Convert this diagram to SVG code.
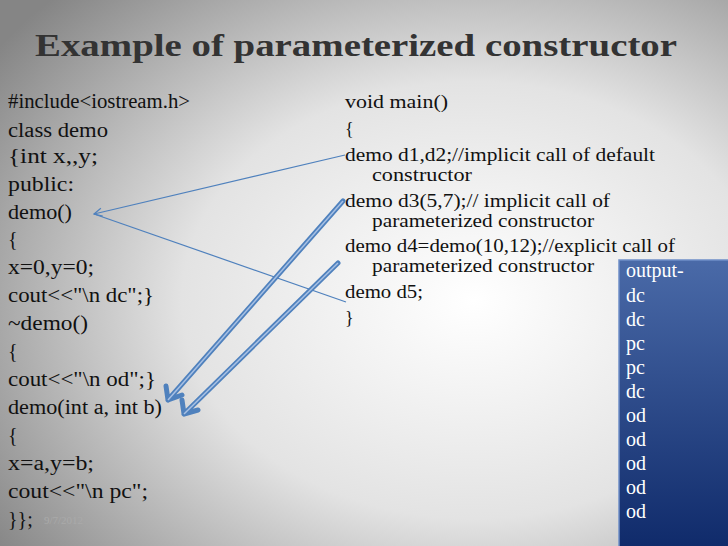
<svg xmlns="http://www.w3.org/2000/svg" width="728" height="546" viewBox="0 0 728 546">
<defs>
<radialGradient id="bg" cx="0.65" cy="0.55" r="0.8">
<stop offset="0" stop-color="#ffffff"/><stop offset="0.5" stop-color="#e3e3e3"/><stop offset="1" stop-color="#858585"/>
</radialGradient>
<linearGradient id="ob" x1="0" y1="0" x2="0" y2="1">
<stop offset="0" stop-color="#4a6aa8"/><stop offset="1" stop-color="#0f2a6a"/>
</linearGradient>
<marker id="thin" markerWidth="10" markerHeight="10" refX="9" refY="5" orient="auto" markerUnits="userSpaceOnUse">
<path d="M1,1 L9,5 L1,9" fill="none" stroke="#4f81bd" stroke-width="1.2"/>
</marker>
</defs>
<style>
.c{font-family:"Liberation Serif",serif;font-size:20px;fill:#111}
.r{font-family:"Liberation Serif",serif;font-size:18px;fill:#111}
.o{font-family:"Liberation Serif",serif;font-size:20px;fill:#fff}
.thin{stroke:#4f81bd;stroke-width:1.2;fill:none}
.thick{stroke:#4f81bd;stroke-width:5;fill:none;stroke-linecap:round;stroke-linejoin:round}
.thickin{stroke:#a7c0e4;stroke-width:1.5;fill:none}
</style>
<rect width="728" height="546" fill="url(#bg)"/>
<text x="35" y="56" font-family="Liberation Serif,serif" font-size="31" font-weight="bold" fill="#333" textLength="642" lengthAdjust="spacingAndGlyphs">Example of parameterized constructor</text>
<g id="left-code">
<text class="c" x="8" y="108" textLength="182" lengthAdjust="spacingAndGlyphs">#include&lt;iostream.h&gt;</text>
<text class="c" x="8" y="137" textLength="100" lengthAdjust="spacingAndGlyphs">class demo</text>
<text class="c" x="8" y="163" textLength="90" lengthAdjust="spacingAndGlyphs">{int x,,y;</text>
<text class="c" x="8" y="191" textLength="66" lengthAdjust="spacingAndGlyphs">public:</text>
<text class="c" x="8" y="219" textLength="64" lengthAdjust="spacingAndGlyphs">demo()</text>
<text class="c" x="8" y="246">{</text>
<text class="c" x="8" y="274" textLength="86" lengthAdjust="spacingAndGlyphs">x=0,y=0;</text>
<text class="c" x="8" y="302" textLength="146" lengthAdjust="spacingAndGlyphs">cout&lt;&lt;"\n dc";}</text>
<text class="c" x="8" y="330" textLength="80" lengthAdjust="spacingAndGlyphs">~demo()</text>
<text class="c" x="8" y="358">{</text>
<text class="c" x="8" y="386" textLength="148" lengthAdjust="spacingAndGlyphs">cout&lt;&lt;"\n od";}</text>
<text class="c" x="8" y="414" textLength="154" lengthAdjust="spacingAndGlyphs">demo(int a, int b)</text>
<text class="c" x="8" y="442">{</text>
<text class="c" x="8" y="470" textLength="86" lengthAdjust="spacingAndGlyphs">x=a,y=b;</text>
<text class="c" x="8" y="498" textLength="140" lengthAdjust="spacingAndGlyphs">cout&lt;&lt;"\n pc";</text>
<text class="c" x="8" y="526">}};</text>
<text x="44" y="524" font-family="Liberation Serif,serif" font-size="11" fill="#aaa">9/7/2012</text>
</g>
<g id="main-code">
<text class="r" x="345" y="108" textLength="103" lengthAdjust="spacingAndGlyphs">void main()</text>
<text class="r" x="345" y="135">{</text>
<text class="r" x="345" y="161" textLength="310" lengthAdjust="spacingAndGlyphs">demo d1,d2;//implicit call of default</text>
<text class="r" x="372" y="181" textLength="100" lengthAdjust="spacingAndGlyphs">constructor</text>
<text class="r" x="345" y="207" textLength="265" lengthAdjust="spacingAndGlyphs">demo d3(5,7);// implicit call of</text>
<text class="r" x="372" y="227" textLength="222" lengthAdjust="spacingAndGlyphs">parameterized constructor</text>
<text class="r" x="345" y="252" textLength="330" lengthAdjust="spacingAndGlyphs">demo d4=demo(10,12);//explicit call of</text>
<text class="r" x="372" y="272" textLength="222" lengthAdjust="spacingAndGlyphs">parameterized constructor</text>
<text class="r" x="345" y="298" textLength="78" lengthAdjust="spacingAndGlyphs">demo d5;</text>
<text class="r" x="345" y="324">}</text>
</g>
<g id="output">
<rect x="619" y="260" width="110" height="290" fill="url(#ob)" stroke="#6f8fc8" stroke-width="1.5"/>
<text class="o" x="626" y="277">output-</text>
<text class="o" x="626" y="302">dc</text>
<text class="o" x="626" y="326">dc</text>
<text class="o" x="626" y="350">pc</text>
<text class="o" x="626" y="374">pc</text>
<text class="o" x="626" y="398">dc</text>
<text class="o" x="626" y="422">od</text>
<text class="o" x="626" y="446">od</text>
<text class="o" x="626" y="470">od</text>
<text class="o" x="626" y="494">od</text>
<text class="o" x="626" y="518">od</text>
</g>
<g id="connectors">
<path class="thin" d="M345,155 L94,214" marker-end="url(#thin)"/>
<path class="thin" d="M94,214 L346,302"/>
<path class="thick" d="M343,201 L168,400 M166,386 L168,400 L182,395"/>
<path class="thickin" d="M343,201 L168,400"/>
<path class="thick" d="M338,263 L184,414 M182,400 L184,414 L198,410"/>
<path class="thickin" d="M338,263 L184,414"/>
</g>
</svg>
